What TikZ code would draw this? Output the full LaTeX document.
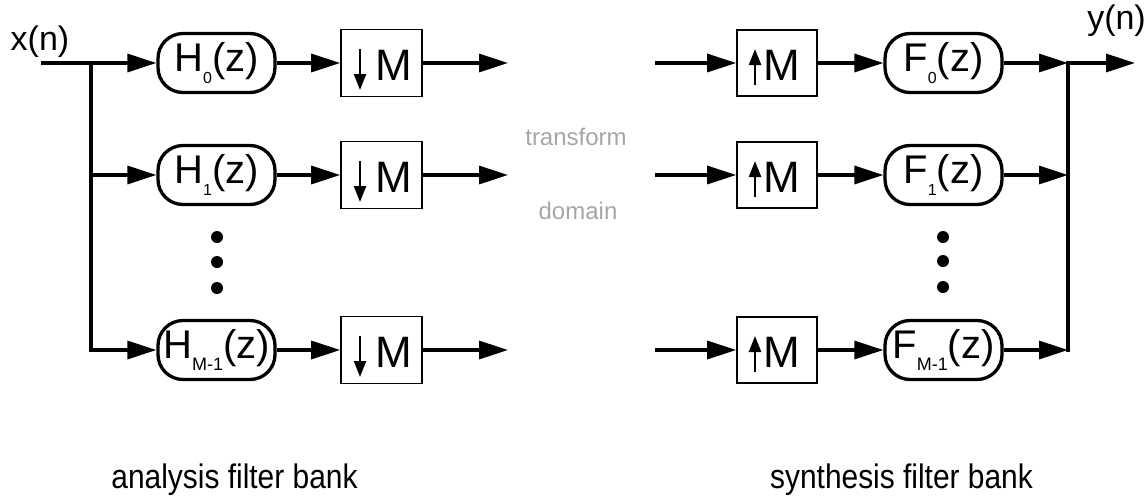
\documentclass[tikz,border=0pt]{standalone}
\usepackage{fontspec}
\setmainfont{Liberation Sans}
\newfontfamily\narrowsans[FakeStretch=0.88]{Liberation Sans}
\usetikzlibrary{arrows.meta}
\newcommand\subsz[2][16]{\raisebox{-0.32em}{\fontsize{#1}{#1}\selectfont #2}}
\begin{document}
\begin{tikzpicture}[x=1pt,y=-1pt,
  pill/.style={draw, line width=3.3pt, rounded corners=25pt, minimum width=117pt, minimum height=59pt, inner sep=0pt, font=\fontsize{40}{40}\selectfont},
  rate/.style={draw, line width=1.6pt, minimum width=81pt, minimum height=67pt, inner sep=0pt},
  mlbl/.style={inner sep=0pt, font=\fontsize{44}{44}\selectfont},
  conn/.style={line width=3.2pt, -{Triangle[length=29pt,width=18pt]}},
  wire/.style={line width=3.2pt, line cap=rect},
  inarrow/.style={line width=2.4pt, -{Triangle[length=16pt,width=12pt]}},
  dotmark/.style={circle, fill, inner sep=0pt, minimum size=12pt},
  siglbl/.style={anchor=base, inner sep=0pt, font=\fontsize{34}{34}\selectfont},
  graylbl/.style={anchor=base, inner sep=0pt, text=black!35, font=\fontsize{24}{24}\selectfont},
  banklbl/.style={anchor=base, inner sep=0pt, font=\narrowsans\fontsize{34}{34}\selectfont}
]
\useasboundingbox (0,0) rectangle (1147,498);

% ---------- analysis side ----------
\node[siglbl] (xn) at (40,50) {x(n)};
\coordinate (in) at (41,63);
\coordinate (br0) at (91,63);
\coordinate (br1) at (91,175);
\coordinate (br2) at (91,350);

\node[pill] (h0) at (216.5,63) {H\subsz{0}(z)};
\node[pill] (h1) at (216.5,175) {H\subsz{1}(z)};
\node[pill] (h2) at (216.5,350) {H\subsz[18]{M-1}(z)};

\node[rate] (d0) at (381.5,63) {};
\node[rate] (d1) at (381.5,175) {};
\node[rate] (d2) at (381.5,350) {};
\foreach \n in {d0,d1,d2}{
  \node[mlbl] (\n m) at ([shift={(12,2)}]\n.center) {M};
  \draw[inarrow] ([shift={(-21.5,-14)}]\n.center) -- ([shift={(-21.5,27)}]\n.center);
}

\coordinate (o0) at (508,63);
\coordinate (o1) at (508,175);
\coordinate (o2) at (508,350);

\draw[conn] (in) -- (h0);
\draw[wire] (br0) -- (br2);
\draw[conn] (br1) -- (h1);
\draw[conn] (br2) -- (h2);
\draw[conn] (h0) -- (d0);
\draw[conn] (h1) -- (d1);
\draw[conn] (h2) -- (d2);
\draw[conn] (d0) -- (o0);
\draw[conn] (d1) -- (o1);
\draw[conn] (d2) -- (o2);

\node[dotmark] (ld1) at (217,237) {};
\node[dotmark] (ld2) at (217,262) {};
\node[dotmark] (ld3) at (217,288) {};

% ---------- middle ----------
\node[graylbl] (tr) at (576,145) {transform};
\node[graylbl] (dm) at (578,219) {domain};

% ---------- synthesis side ----------
\coordinate (i0) at (655,63);
\coordinate (i1) at (655,175);
\coordinate (i2) at (655,350);

\node[rate, minimum width=80pt, minimum height=66pt] (u0) at (777,63) {};
\node[rate, minimum width=80pt, minimum height=66pt] (u1) at (777,175) {};
\node[rate, minimum width=80pt, minimum height=66pt] (u2) at (777,350) {};
\foreach \n in {u0,u1,u2}{
  \node[mlbl] (\n m) at ([shift={(5,2)}]\n.center) {M};
  \draw[inarrow] ([shift={(-22,22)}]\n.center) -- ([shift={(-22,-14)}]\n.center);
}

\node[pill] (f0) at (943.5,63) {F\subsz{0}(z)};
\node[pill] (f1) at (943.5,175) {F\subsz{1}(z)};
\node[pill] (f2) at (943.5,350) {F\subsz[18]{M-1}(z)};

\coordinate (s0) at (1068,63);
\coordinate (s1) at (1068,175);
\coordinate (s2) at (1068,350);
\coordinate (out) at (1135,63);
\node[siglbl, anchor=base east] (yn) at (1146,29) {y(n)};

\draw[conn] (i0) -- (u0);
\draw[conn] (i1) -- (u1);
\draw[conn] (i2) -- (u2);
\draw[conn] (u0) -- (f0);
\draw[conn] (u1) -- (f1);
\draw[conn] (u2) -- (f2);
\draw[conn] (f0) -- (s0);
\draw[conn] (f1) -- (s1);
\draw[conn] (f2) -- (s2);
\draw[wire] (s0) -- (s2);
\draw[conn] (s0) -- (out);

\node[dotmark] (rd1) at (943,237) {};
\node[dotmark] (rd2) at (943,261) {};
\node[dotmark] (rd3) at (943,287) {};

% ---------- captions ----------
\node[banklbl] (an) at (234.5,488) {analysis filter bank};
\node[banklbl] (sy) at (901.5,488) {synthesis filter bank};
\end{tikzpicture}
\end{document}
